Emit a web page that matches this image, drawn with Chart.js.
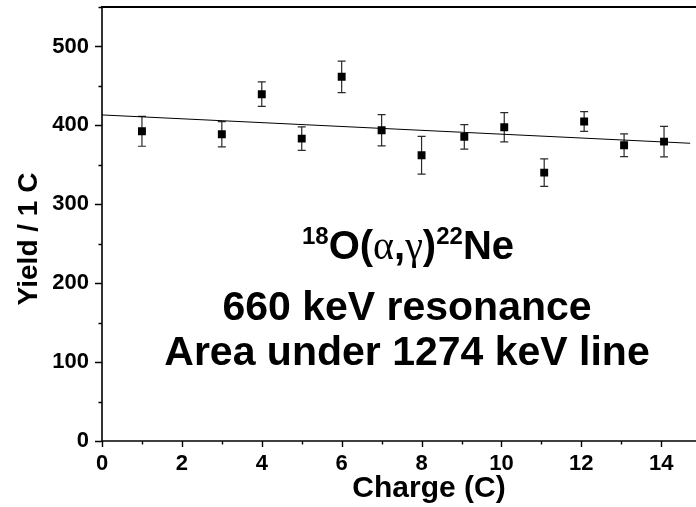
<!DOCTYPE html>
<html><head><meta charset="utf-8">
<script src="https://cdn.jsdelivr.net/npm/chart.js@4/dist/chart.umd.min.js"></script>
<style>html,body{margin:0;padding:0;background:#fff;overflow:hidden}</style>
</head><body>
<canvas id="c" width="696" height="507" style="display:block;width:696px;height:507px"></canvas>
<script>
// ---- data ----
const charge    = [1, 3, 4, 5, 6, 7, 8, 9.07, 10.07, 11.07, 12.07, 13.07, 14.07];
const yieldVals = [392.5, 388.7, 439.5, 383.2, 461.5, 393.8, 362.1, 385.4, 397.6, 340.1, 404.8, 374.7, 379.4];
const yieldErr  = [19, 16, 15.5, 15, 20, 19.7, 24, 15.5, 18.6, 17.5, 12.5, 14.4, 19.3];
const fitX = [0, 14.73];
const fitY = [413.2, 377.3];
const xRange = [0, 14.73];
const yRange = [0, 550];
const xMajorStep = 2, xMinorStep = 1;
const yMajorStep = 100, yMinorStep = 50;
const xTitle = 'Charge (C)';
const yTitle = 'Yield / 1 C';
const noteLine1 = [['18','sup'],['O(','b'],['\u03B1','g'],[',','b'],['\u03B3','g'],[')','b'],['22','sup'],['Ne','b']];
const noteLine2 = '660 keV resonance';
const noteLine3 = 'Area under 1274 keV line';

const SANS = '"Liberation Sans", Arial, Helvetica, sans-serif';
const SERIF = '"Liberation Serif", "Times New Roman", serif';

const framePlugin = {
  id: 'frame',
  beforeDatasetsDraw(chart) {
    const ctx = chart.ctx, xs = chart.scales.x, ys = chart.scales.y;
    ctx.save();
    ctx.strokeStyle = '#2a2a2a';
    ctx.lineWidth = 1.2;
    charge.forEach((c, i) => {
      const px = xs.getPixelForValue(c);
      const top = ys.getPixelForValue(yieldVals[i] + yieldErr[i]);
      const bot = ys.getPixelForValue(yieldVals[i] - yieldErr[i]);
      ctx.beginPath();
      ctx.moveTo(px, top); ctx.lineTo(px, bot);
      ctx.moveTo(px - 4, top); ctx.lineTo(px + 4, top);
      ctx.moveTo(px - 4, bot); ctx.lineTo(px + 4, bot);
      ctx.stroke();
    });
    ctx.restore();
  },
  afterDraw(chart) {
    const ctx = chart.ctx, xs = chart.scales.x, ys = chart.scales.y, a = chart.chartArea;
    ctx.save();
    ctx.strokeStyle = '#000';
    ctx.lineWidth = 2;
    ctx.beginPath(); ctx.moveTo(a.left - 1, a.top); ctx.lineTo(chart.width, a.top); ctx.stroke();
    ctx.lineWidth = 1.6;
    ctx.beginPath(); ctx.moveTo(a.left, a.top); ctx.lineTo(a.left, a.bottom); ctx.lineTo(chart.width, a.bottom); ctx.stroke();
    ctx.lineWidth = 1.4;
    ctx.beginPath();
    for (let v = xs.min; v <= xs.max + 1e-9; v += xMinorStep) {
      const px = Math.round(xs.getPixelForValue(v)) + 0.5;
      const len = (Math.round(v) % xMajorStep === 0) ? 6 : 3.5;
      ctx.moveTo(px, a.bottom); ctx.lineTo(px, a.bottom + len);
    }
    for (let v = ys.min; v <= ys.max + 1e-9; v += yMinorStep) {
      const py = Math.round(ys.getPixelForValue(v)) + 0.5;
      const len = (Math.round(v) % yMajorStep === 0) ? 7 : 3.5;
      ctx.moveTo(a.left, py); ctx.lineTo(a.left - len, py);
    }
    ctx.stroke();
    ctx.fillStyle = '#000';
    ctx.font = 'bold 30px ' + SANS;
    ctx.textAlign = 'center';
    ctx.textBaseline = 'alphabetic';
    ctx.fillText(xTitle, a.left + 327, a.bottom + 56);
    ctx.save();
    ctx.translate(37, 239);
    ctx.rotate(-Math.PI / 2);
    ctx.font = 'bold 28px ' + SANS;
    ctx.fillText(yTitle, 0, 0);
    ctx.restore();
    const big = 'bold 40px ' + SANS, sup = 'bold 24px ' + SANS, greek = '40px ' + SERIF;
    const fontOf = k => k === 'sup' ? sup : (k === 'g' ? greek : big);
    let w = 0;
    noteLine1.forEach(([t, k]) => { ctx.font = fontOf(k); w += ctx.measureText(t).width; });
    let x = 408 - w / 2;
    ctx.textAlign = 'left';
    noteLine1.forEach(([t, k]) => {
      ctx.font = fontOf(k);
      ctx.fillText(t, x, k === 'sup' ? 259 - 15 : 259);
      x += ctx.measureText(t).width;
    });
    ctx.textAlign = 'center';
    ctx.font = 'bold 41px ' + SANS;
    ctx.fillText(noteLine2, 407, 320);
    ctx.fillText(noteLine3, 407, 365);
    ctx.restore();
  }
};

new Chart(document.getElementById('c'), {
  type: 'scatter',
  data: {
    datasets: [
      {
        label: 'Yield',
        data: charge.map((c, i) => ({ x: c, y: yieldVals[i] })),
        pointStyle: 'rect',
        pointRadius: 5.6,
        pointHoverRadius: 5.6,
        backgroundColor: '#000',
        borderWidth: 0,
        showLine: false
      },
      {
        label: 'Fit',
        type: 'line',
        data: fitX.map((x, i) => ({ x, y: fitY[i] })),
        borderColor: '#000',
        borderWidth: 1,
        pointRadius: 0,
        fill: false
      }
    ]
  },
  options: {
    responsive: false,
    animation: false,
    devicePixelRatio: 1,
    layout: { padding: { top: 7, right: 0, bottom: 0, left: 0 } },
    plugins: { legend: { display: false }, tooltip: { enabled: false } },
    scales: {
      x: {
        type: 'linear',
        min: xRange[0], max: xRange[1],
        afterFit: s => { s.height = 66; s.paddingLeft = 0; s.paddingRight = 0; },
        grid: { display: false, drawTicks: false },
        border: { display: false },
        ticks: {
          stepSize: xMajorStep, includeBounds: false, autoSkip: false, maxRotation: 0,
          color: '#000', font: { family: SANS, size: 22, weight: 'bold' }, padding: 10
        }
      },
      y: {
        type: 'linear',
        min: yRange[0], max: yRange[1],
        afterFit: s => { s.width = 102; s.paddingTop = 0; s.paddingBottom = 0; },
        grid: { display: false, drawTicks: false },
        border: { display: false },
        ticks: {
          stepSize: yMajorStep, includeBounds: false,
          color: '#000', font: { family: SANS, size: 22, weight: 'bold' }, padding: 13
        }
      }
    }
  },
  plugins: [framePlugin]
});
</script>
</body></html>
